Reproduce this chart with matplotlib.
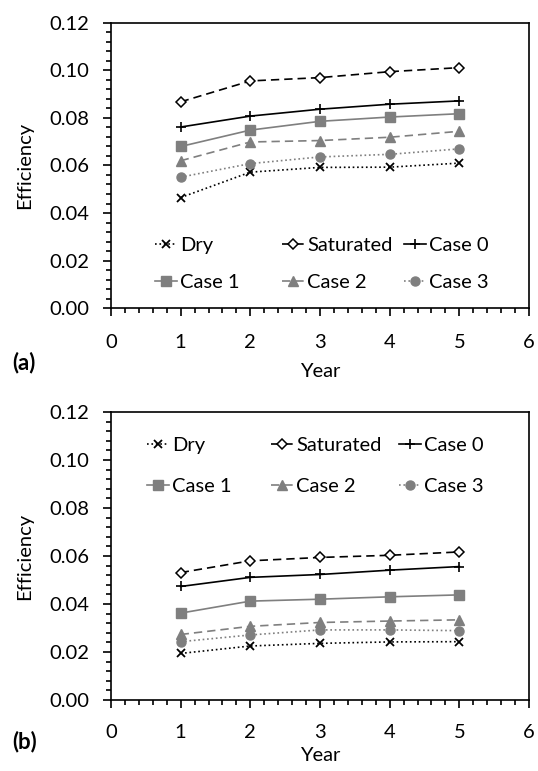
import matplotlib
matplotlib.use("Agg")
import matplotlib.pyplot as plt
from matplotlib.legend import Legend
from matplotlib.ticker import MultipleLocator, FormatStrFormatter

plt.rcParams['font.family'] = ['Lato', 'DejaVu Sans']

years = [1, 2, 3, 4, 5]
series_names = ["Dry", "Saturated", "Case 0", "Case 1", "Case 2", "Case 3"]

# panel (a)
dry_a = [0.0465, 0.0572, 0.0592, 0.0593, 0.0610]
sat_a = [0.0868, 0.0956, 0.0970, 0.0995, 0.1012]
case0_a = [0.0762, 0.0808, 0.0837, 0.0858, 0.0872]
case1_a = [0.0680, 0.0749, 0.0786, 0.0804, 0.0818]
case2_a = [0.0620, 0.0699, 0.0705, 0.0719, 0.0744]
case3_a = [0.0551, 0.0608, 0.0636, 0.0647, 0.0670]

# panel (b)
dry_b = [0.0194, 0.0225, 0.0236, 0.0242, 0.0243]
sat_b = [0.0531, 0.0580, 0.0594, 0.0603, 0.0617]
case0_b = [0.0473, 0.0511, 0.0523, 0.0541, 0.0556]
case1_b = [0.0362, 0.0412, 0.0420, 0.0430, 0.0438]
case2_b = [0.0273, 0.0307, 0.0323, 0.0329, 0.0334]
case3_b = [0.0243, 0.0271, 0.0292, 0.0292, 0.0289]

FS = 14.5
GRAY = "#7f7f7f"
DASH = (0, (5, 3))
styles = [
    dict(color="black", linestyle=":", marker="x", markersize=5.5, mew=1.3),
    dict(color="black", linestyle=DASH, marker="D", markersize=4.8,
         mfc="white", mew=1.1),
    dict(color="black", linestyle="-", marker="+", markersize=7, mew=1.2),
    dict(color=GRAY, linestyle="-", marker="s", markersize=6.5),
    dict(color=GRAY, linestyle=DASH, marker="^", markersize=7),
    dict(color=GRAY, linestyle=":", marker="o", markersize=6.5),
]

fig = plt.figure(figsize=(5.38, 7.71), dpi=100)
ax_a = fig.add_axes([0.2063, 0.6005, 0.777, 0.3697])
ax_b = fig.add_axes([0.2063, 0.0921, 0.777, 0.3735])


def draw_panel(ax, data, col_x, row_y, xpad, xlabelpad):
    handles = []
    for name, vals, st in zip(series_names, data, styles):
        h, = ax.plot(years, vals, linewidth=1.2, label=name, **st)
        handles.append(h)
    ax.set_xlim(0, 6)
    ax.set_ylim(0, 0.12)
    ax.xaxis.set_major_locator(MultipleLocator(1))
    ax.xaxis.set_minor_locator(MultipleLocator(0.2))
    ax.yaxis.set_major_locator(MultipleLocator(0.02))
    ax.yaxis.set_minor_locator(MultipleLocator(0.004))
    ax.yaxis.set_major_formatter(FormatStrFormatter("%.2f"))
    ax.tick_params(which="major", direction="out", length=5.5, width=1.2,
                   labelsize=FS)
    ax.tick_params(axis="x", which="major", pad=xpad)
    ax.tick_params(axis="y", which="major", pad=10)
    ax.tick_params(which="minor", direction="out", length=3.5, width=1.2)
    for sp in ax.spines.values():
        sp.set_linewidth(1.2)
    ax.set_xlabel("Year", fontsize=FS, labelpad=xlabelpad)
    ax.set_ylabel("Efficiency", fontsize=FS, labelpad=11.5)
    # one small legend per entry so the columns sit where Excel put them
    for i, (h, name) in enumerate(zip(handles, series_names)):
        leg = Legend(ax, [h], [name], loc="center left",
                     bbox_to_anchor=(col_x[i % 3], row_y[i // 3]),
                     frameon=False, fontsize=FS, handlelength=1.1,
                     handletextpad=0.15, borderpad=0, borderaxespad=0)
        ax.add_artist(leg)


draw_panel(ax_a, [dry_a, sat_a, case0_a, case1_a, case2_a, case3_a],
           [0.105, 0.409, 0.701], [0.221, 0.091], 13.5, 8.5)
draw_panel(ax_b, [dry_b, sat_b, case0_b, case1_b, case2_b, case3_b],
           [0.086, 0.383, 0.689], [0.884, 0.740], 12, 4)

fig.text(0.022, 1 - 363 / 771, "(a)", fontsize=16, fontweight="bold",
         va="center", ha="left")
fig.text(0.022, 1 - 742 / 771, "(b)", fontsize=16, fontweight="bold",
         va="center", ha="left")

fig.savefig("out.png", dpi=100)
